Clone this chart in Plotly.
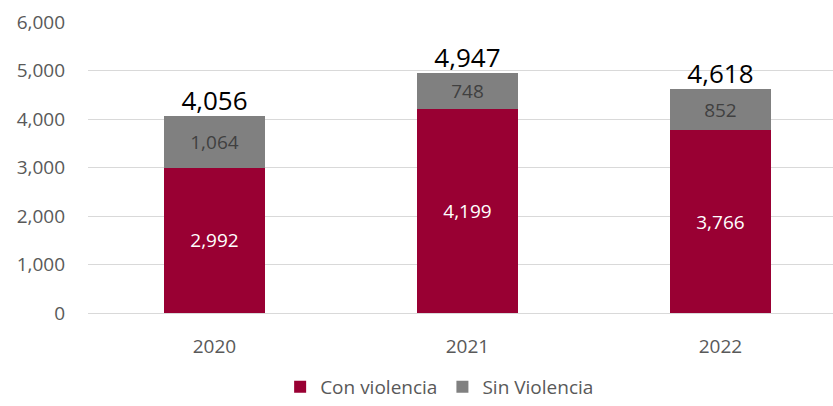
import plotly.graph_objects as go

years = ["2020", "2021", "2022"]
con_violencia = [2992, 4199, 3766]
sin_violencia = [1064, 748, 852]
totals = [4056, 4947, 4618]
y_ticks = [0, 1000, 2000, 3000, 4000, 5000, 6000]

FONT = "Open Sans"
fig = go.Figure()
fig.add_trace(go.Bar(
    x=years, y=con_violencia, name="Con violencia",
    marker=dict(color="#990033", line=dict(width=0)), width=0.4,
    texttemplate="%{y:,}", textposition="inside", insidetextanchor="middle",
    textfont=dict(color="white", size=19, family=FONT), textangle=0,
))
fig.add_trace(go.Bar(
    x=years, y=sin_violencia, name="Sin Violencia",
    marker=dict(color="#808080", line=dict(width=0)), width=0.4,
    texttemplate="%{y:,}", textposition="inside", insidetextanchor="middle",
    textfont=dict(color="#404040", size=19, family=FONT), textangle=0,
))
fig.add_trace(go.Scatter(
    x=years, y=totals, mode="text", text=[f"{t:,}" for t in totals],
    textposition="top center", showlegend=False, cliponaxis=False,
    textfont=dict(size=26, color="black", family=FONT), hoverinfo="skip",
))

fig.update_layout(
    barmode="stack",
    width=833, height=406,
    margin=dict(l=88, r=0, t=22, b=93, autoexpand=False),
    plot_bgcolor="white", paper_bgcolor="white",
    font=dict(family=FONT, size=19, color="#595959"),
    legend=dict(orientation="h", x=0.472, xanchor="center", y=-0.3196, yanchor="bottom",
                font=dict(size=19, color="#595959"), traceorder="normal",
                itemwidth=30),
    xaxis=dict(range=[-0.5, 2.445], showline=True, linecolor="#d9d9d9", linewidth=1,
               ticks="", ticklabelstandoff=16, showgrid=False, automargin=False),
    yaxis=dict(range=[0, 6000], tickvals=y_ticks, tickformat=",", showgrid=True,
               gridcolor="#d9d9d9", gridwidth=1, zeroline=False, ticks="",
               ticklabelstandoff=22, showline=False, automargin=False),
)
fig.write_html("out.html", config={"displayModeBar": False},
               post_script="document.body.style.margin='0';document.body.style.overflow='hidden';")
